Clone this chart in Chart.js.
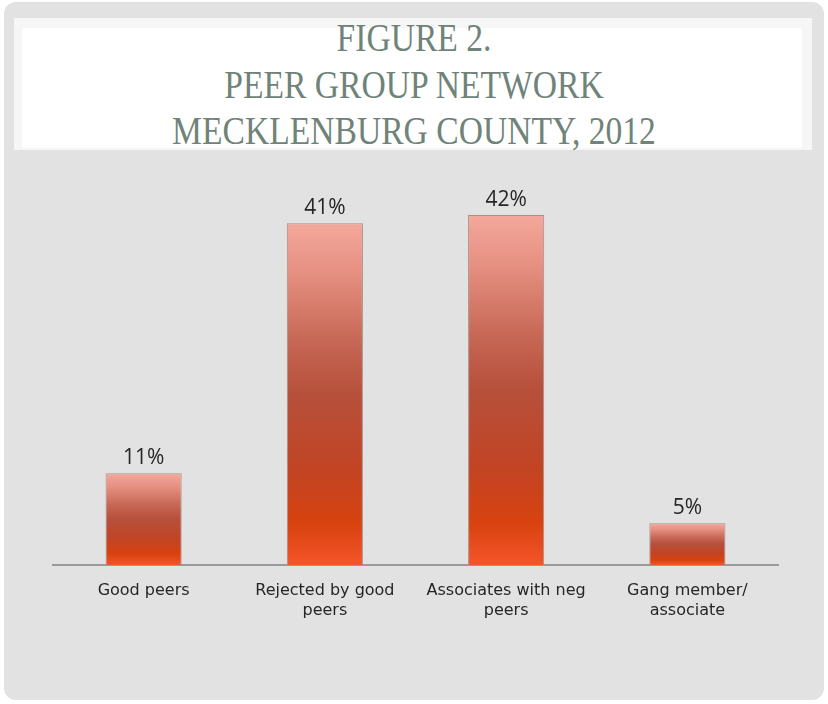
<!DOCTYPE html>
<html>
<head>
<meta charset="utf-8">
<title>Peer Group Network</title>
<script src="https://cdn.jsdelivr.net/npm/chart.js@4.4.1/dist/chart.umd.min.js"></script>
<style>
  html, body { margin: 0; padding: 0; background: #fff; }
  #slide { position: absolute; left: 4px; top: 2px; width: 820px; height: 698px; background: #e2e2e2; border-radius: 12px; }
  #titleBox { position: absolute; left: 14px; top: 18px; width: 798px; height: 132px; background: #f6f6f6; }
  #titleInner { position: absolute; left: 8px; top: 10px; right: 10px; bottom: 2px; background: #fff; }
  #title {
    position: absolute; left: 0; top: 15px; width: 828px; text-align: center;
    font-family: 'Liberation Serif', serif; font-size: 40px; line-height: 46.5px;
    color: #6f8379; transform: scaleX(0.84);
  }
  #chart { position: absolute; left: 0; top: 0; }
</style>
</head>
<body>
<div id="slide"></div>
<div id="titleBox"><div id="titleInner"></div></div>
<div id="title">FIGURE 2.<br>PEER GROUP NETWORK<br>MECKLENBURG COUNTY, 2012</div>
<canvas id="chart" width="828" height="704"></canvas>

<script>
// peer group categories (multi-line labels as shown under the axis)
const categories = [
  ['Good peers'],
  ['Rejected by good', 'peers'],
  ['Associates with neg', 'peers'],
  ['Gang member/', 'associate']
];
// share of youth in each group, percent
const shares = [11, 41, 42, 5];

// each bar gets its own top-to-bottom gradient
function barGradient(context) {
  const chart = context.chart;
  const y = chart.scales.y;
  if (!chart.chartArea || !y || !context.parsed) return '#c8523a';
  const top = y.getPixelForValue(context.parsed.y);
  const bottom = y.getPixelForValue(0);
  if (!Number.isFinite(top) || !Number.isFinite(bottom)) return '#c8523a';
  const g = chart.ctx.createLinearGradient(0, top, 0, bottom);
  g.addColorStop(0, '#f4a89c');
  g.addColorStop(0.15, '#e58f80');
  g.addColorStop(0.35, '#c66654');
  g.addColorStop(0.5, '#b6503b');
  g.addColorStop(0.72, '#c24424');
  g.addColorStop(0.88, '#d8420f');
  g.addColorStop(1, '#f5552b');
  return g;
}

// percent labels above the bars
const valueLabels = {
  id: 'valueLabels',
  afterDatasetsDraw(chart) {
    const ctx = chart.ctx;
    const meta = chart.getDatasetMeta(0);
    ctx.save();
    ctx.font = '21px "Open Sans", sans-serif';
    ctx.fillStyle = '#262626';
    ctx.textAlign = 'center';
    ctx.textBaseline = 'alphabetic';
    meta.data.forEach((bar, i) => {
      ctx.fillText(shares[i] + '%', bar.x, bar.y - 9);
    });
    ctx.restore();
  }
};

new Chart(document.getElementById('chart'), {
  type: 'bar',
  data: {
    labels: categories,
    datasets: [{
      data: shares,
      backgroundColor: barGradient,
      borderColor: '#a3918c',
      borderWidth: 1,
      categoryPercentage: 1,
      barPercentage: 0.42
    }]
  },
  options: {
    responsive: false,
    animation: false,
    layout: { padding: { left: 53, right: 50, top: 190, bottom: 19 } },
    plugins: {
      legend: { display: false },
      title: { display: false },
      tooltip: { enabled: false }
    },
    scales: {
      x: {
        grid: { display: false, drawTicks: false },
        border: { display: true, color: '#9a9a9a', width: 2 },
        ticks: {
          color: '#262626',
          font: { family: 'DejaVu Sans', size: 16, lineHeight: 1.25 },
          padding: 16,
          maxRotation: 0,
          autoSkip: false
        },
        afterFit(scale) { scale.height = 120; }
      },
      y: { display: false, min: 0, max: 45 }
    }
  },
  plugins: [valueLabels]
});
</script>
</body>
</html>
